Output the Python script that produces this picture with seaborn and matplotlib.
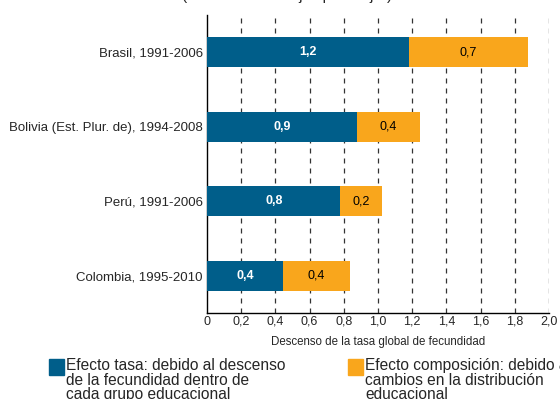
import matplotlib
matplotlib.use("Agg")
import matplotlib.pyplot as plt
from matplotlib.patches import Rectangle
import seaborn as sns
import pandas as pd
import numpy as np

categories = ["Brasil, 1991-2006", "Bolivia (Est. Plur. de), 1994-2008",
              "Perú, 1991-2006", "Colombia, 1995-2010"]
efecto_tasa = [1.18, 0.875, 0.78, 0.445]
efecto_comp = [0.70, 0.37, 0.245, 0.392]
labels_tasa = ["1,2", "0,9", "0,8", "0,4"]
labels_comp = ["0,7", "0,4", "0,2", "0,4"]
xticks = [0, 0.2, 0.4, 0.6, 0.8, 1.0, 1.2, 1.4, 1.6, 1.8, 2.0]
xticklabels = ["0", "0,2", "0,4", "0,6", "0,8", "1,0", "1,2", "1,4", "1,6", "1,8", "2,0"]

BLUE = "#005E8A"
ORANGE = "#F9A61C"

sns.set_style("white")
plt.rcParams["font.family"] = ["Liberation Sans", "DejaVu Sans"]

df = pd.DataFrame({"cat": categories, "tasa": efecto_tasa, "comp": efecto_comp})
df["total"] = df["tasa"] + df["comp"]

fig = plt.figure(figsize=(5.6, 3.99), dpi=100)
ax = fig.add_axes([207/560, 1-313/399, (549-207)/560, (313-15)/399])

sns.barplot(data=df, y="cat", x="total", color=ORANGE, orient="h", width=0.4,
            saturation=1, linewidth=0, ax=ax, zorder=3)
sns.barplot(data=df, y="cat", x="tasa", color=BLUE, orient="h", width=0.4,
            saturation=1, linewidth=0, ax=ax, zorder=4)

for i, (t, c) in enumerate(zip(efecto_tasa, efecto_comp)):
    ax.text(t/2, i, labels_tasa[i], ha="center", va="center", color="white",
            fontsize=9, fontweight="bold", zorder=5)
    ax.text(t + c/2, i, labels_comp[i], ha="center", va="center", color="black",
            fontsize=9, zorder=5)

ax.set_xlim(0, 2.0)
ax.set_ylim(3.5, -0.5)
ax.set_xticks(xticks)
ax.set_xticklabels(xticklabels, fontsize=9)
ax.set_yticks(range(len(categories)))
ax.set_yticklabels(categories, fontsize=9.5)
ax.tick_params(axis="y", which="major", length=0, pad=3)
ax.set_yticks([-0.5, 0.5, 1.5, 2.5], minor=True)
ax.tick_params(axis="y", which="minor", length=3, width=0.8, direction="out", color="black")
ax.tick_params(axis="x", which="major", length=4, width=0.8, direction="in", color="black", pad=2)
ax.set_ylabel("")
ax.set_xlabel("Descenso de la tasa global de fecundidad", fontsize=8.3, labelpad=6)

for x in xticks[1:]:
    ax.axvline(x, color="#333333", lw=0.9, linestyle=(0, (4, 4)), zorder=1)

for s in ["top", "right"]:
    ax.spines[s].set_visible(False)
for s in ["left", "bottom"]:
    ax.spines[s].set_color("black")
    ax.spines[s].set_linewidth(1.0)

# partially visible subtitle at the very top
fig.text(287/560, 1.0, "(En número de hijos por mujer)", ha="center", va="baseline",
         fontsize=11)

# legend
fig.patches.append(Rectangle((49/560, 1-375/399), 15/560, 16/399,
                             transform=fig.transFigure, color=BLUE))
fig.patches.append(Rectangle((348/560, 1-375/399), 15/560, 16/399,
                             transform=fig.transFigure, color=ORANGE))
fig.text(66/560, 1-358/399,
         "Efecto tasa: debido al descenso\nde la fecundidad dentro de\ncada grupo educacional",
         ha="left", va="top", fontsize=11.2, linespacing=0.97)
fig.text(365/560, 1-358/399,
         "Efecto composición: debido a\ncambios en la distribución\neducacional",
         ha="left", va="top", fontsize=11.2, linespacing=0.97)

fig.savefig("out.png", dpi=100)
